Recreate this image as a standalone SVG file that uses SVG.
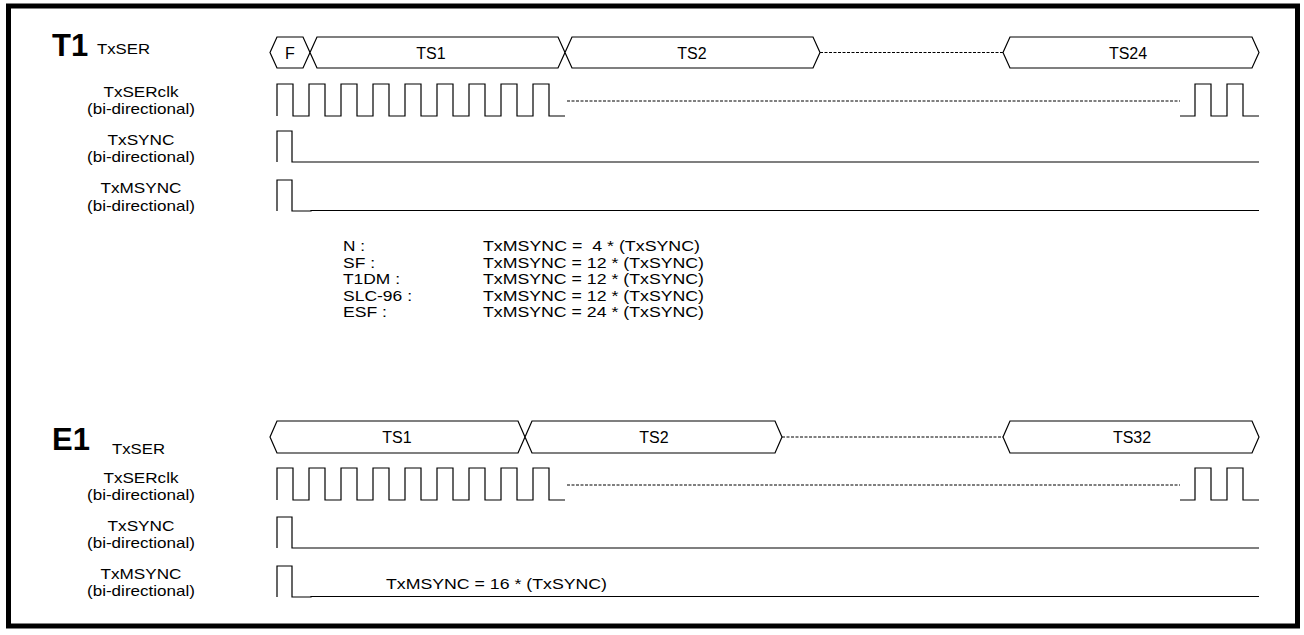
<svg xmlns="http://www.w3.org/2000/svg" width="1304" height="635" viewBox="0 0 1304 635">
<style>
text{font-family:"Liberation Sans",Arial,sans-serif;fill:#000}
.big{font-size:31px;font-weight:bold}
.lbl{font-size:14.6px;text-anchor:middle}
.ser{font-size:15px}
.bt{font-size:16px;text-anchor:middle}
.note{font-size:14.8px;white-space:pre}
.w{fill:none;stroke:#000;stroke-width:1.2}
.bus{fill:#fff;stroke:#000;stroke-width:1.2}
.dash{fill:none;stroke:#000;stroke-width:1;stroke-dasharray:3,1.5}
</style>
<defs>
<path id="clk" class="w" d="M0,32 V0 H16 V32 H32 V0 H48 V32 H64 V0 H80 V32 H96 V0 H112 V32 H128 V0 H144 V32 H160 V0 H176 V32 H192 V0 H208 V32 H224 V0 H240 V32 H256 V0 H272 V32 H288 M903,32 H918 V0 H934 V32 H950 V0 H966 V32 H982"/>
<path id="clkdash" class="dash" d="M290,17 H903"/>
<path id="sync" class="w" d="M0,31 V0 H15 V31 H982"/>
<path id="msync" class="w" d="M0,31 V0 H15 V31 H34 V30.5 H982"/>
</defs>
<rect x="8.5" y="6" width="1289" height="620" fill="#fff" stroke="#000" stroke-width="5"/>

<g id="t1">
<text class="big" x="52" y="56">T1</text>
<g id="t1-txser">
<text class="ser" x="97" y="54" textLength="53" lengthAdjust="spacingAndGlyphs">TxSER</text>
<path class="bus" d="M270,52.5 L277,37 L303,37 L310,52.5 L303,68 L277,68 Z"/>
<path class="bus" d="M310,52.5 L317,37 L558,37 L565,52.5 L558,68 L317,68 Z"/>
<path class="bus" d="M565,52.5 L572,37 L813,37 L820,52.5 L813,68 L572,68 Z"/>
<path class="dash" d="M820,52.5 H1003"/>
<path class="bus" d="M1003,52.5 L1010,37 L1252,37 L1259,52.5 L1252,68 L1010,68 Z"/>
<text class="bt" x="290" y="58.5">F</text>
<text class="bt" x="431" y="58.5">TS1</text>
<text class="bt" x="692" y="58.5">TS2</text>
<text class="bt" x="1128" y="58.5">TS24</text>
</g>
<g id="t1-txserclk">
<text class="lbl" x="141" y="97" textLength="75" lengthAdjust="spacingAndGlyphs">TxSERclk</text>
<text class="lbl" x="141" y="114" textLength="108" lengthAdjust="spacingAndGlyphs">(bi-directional)</text>
<use href="#clk" x="277" y="84"/>
<use href="#clkdash" x="277" y="84"/>
</g>
<g id="t1-txsync">
<text class="lbl" x="141" y="145" textLength="67" lengthAdjust="spacingAndGlyphs">TxSYNC</text>
<text class="lbl" x="141" y="162" textLength="108" lengthAdjust="spacingAndGlyphs">(bi-directional)</text>
<use href="#sync" x="277" y="131"/>
</g>
<g id="t1-txmsync">
<text class="lbl" x="141" y="193" textLength="81" lengthAdjust="spacingAndGlyphs">TxMSYNC</text>
<text class="lbl" x="141" y="211" textLength="108" lengthAdjust="spacingAndGlyphs">(bi-directional)</text>
<use href="#msync" x="277" y="180"/>
</g>
<g id="t1-notes">
<text class="note" x="343" y="251" textLength="22" lengthAdjust="spacingAndGlyphs">N :</text>
<text class="note" x="343" y="267.5" textLength="32" lengthAdjust="spacingAndGlyphs">SF :</text>
<text class="note" x="343" y="284" textLength="57" lengthAdjust="spacingAndGlyphs">T1DM :</text>
<text class="note" x="343" y="300.5" textLength="69" lengthAdjust="spacingAndGlyphs">SLC-96 :</text>
<text class="note" x="343" y="317" textLength="44" lengthAdjust="spacingAndGlyphs">ESF :</text>
<text class="note" x="483" y="251" textLength="217" lengthAdjust="spacingAndGlyphs">TxMSYNC =  4 * (TxSYNC)</text>
<text class="note" x="483" y="267.5" textLength="221" lengthAdjust="spacingAndGlyphs">TxMSYNC = 12 * (TxSYNC)</text>
<text class="note" x="483" y="284" textLength="221" lengthAdjust="spacingAndGlyphs">TxMSYNC = 12 * (TxSYNC)</text>
<text class="note" x="483" y="300.5" textLength="221" lengthAdjust="spacingAndGlyphs">TxMSYNC = 12 * (TxSYNC)</text>
<text class="note" x="483" y="317" textLength="221" lengthAdjust="spacingAndGlyphs">TxMSYNC = 24 * (TxSYNC)</text>
</g>
</g>

<g id="e1">
<text class="big" x="52" y="450">E1</text>
<g id="e1-txser">
<text class="ser" x="112" y="454" textLength="53" lengthAdjust="spacingAndGlyphs">TxSER</text>
<path class="bus" d="M270,437 L277,421 L518,421 L525,437 L518,453 L277,453 Z"/>
<path class="bus" d="M525,437 L532,421 L775,421 L782,437 L775,453 L532,453 Z"/>
<path class="dash" d="M782,437 H1003"/>
<path class="bus" d="M1003,437 L1010,421 L1252,421 L1259,437 L1252,453 L1010,453 Z"/>
<text class="bt" x="397" y="443">TS1</text>
<text class="bt" x="654" y="443">TS2</text>
<text class="bt" x="1132" y="443">TS32</text>
</g>
<g id="e1-txserclk">
<text class="lbl" x="141" y="483" textLength="75" lengthAdjust="spacingAndGlyphs">TxSERclk</text>
<text class="lbl" x="141" y="500" textLength="108" lengthAdjust="spacingAndGlyphs">(bi-directional)</text>
<use href="#clk" x="277" y="468"/>
<use href="#clkdash" x="277" y="468"/>
</g>
<g id="e1-txsync">
<text class="lbl" x="141" y="531" textLength="67" lengthAdjust="spacingAndGlyphs">TxSYNC</text>
<text class="lbl" x="141" y="548" textLength="108" lengthAdjust="spacingAndGlyphs">(bi-directional)</text>
<use href="#sync" x="277" y="517"/>
</g>
<g id="e1-txmsync">
<text class="lbl" x="141" y="579" textLength="81" lengthAdjust="spacingAndGlyphs">TxMSYNC</text>
<text class="lbl" x="141" y="596" textLength="108" lengthAdjust="spacingAndGlyphs">(bi-directional)</text>
<use href="#msync" x="277" y="566"/>
<text class="note" x="386" y="589" textLength="221" lengthAdjust="spacingAndGlyphs">TxMSYNC = 16 * (TxSYNC)</text>
</g>
</g>
</svg>
